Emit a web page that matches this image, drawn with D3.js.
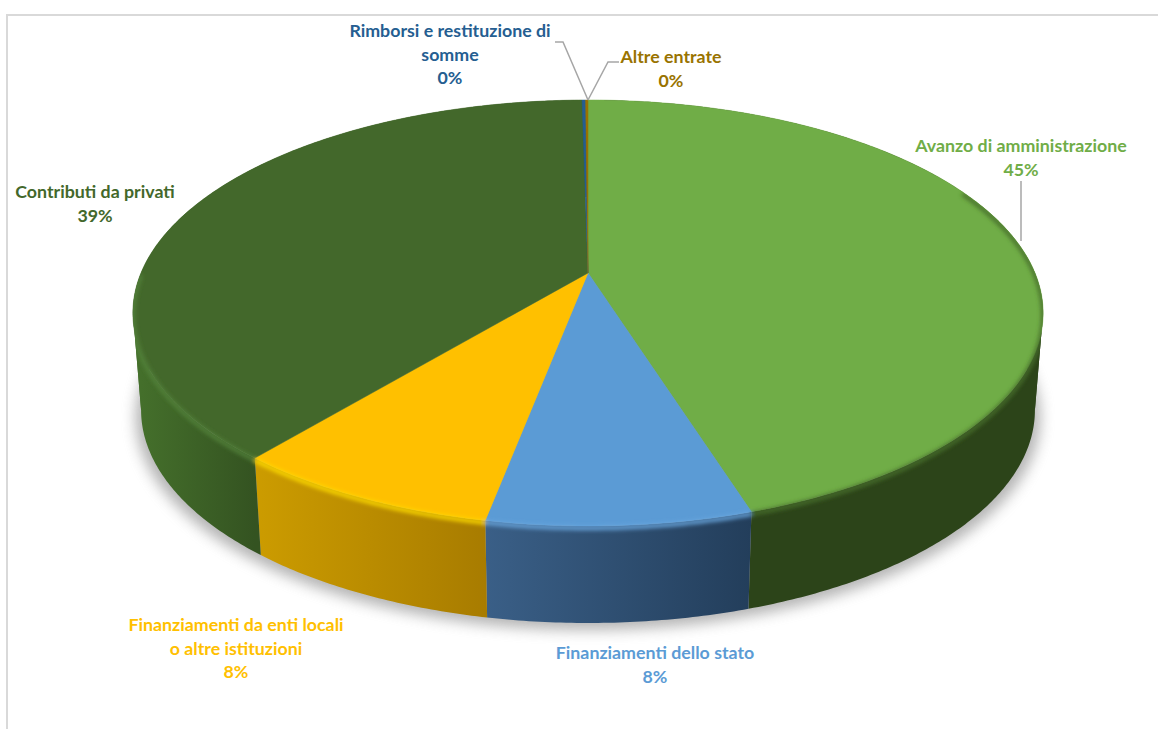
<!DOCTYPE html>
<html>
<head>
<meta charset="utf-8">
<script src="https://cdn.jsdelivr.net/npm/d3@7/dist/d3.min.js"></script>
<style>
  html, body { margin: 0; padding: 0; background: #fff; overflow: hidden; }
  text { font-family: Lato, "Open Sans", sans-serif; font-weight: 700; font-size: 17.8px; text-anchor: middle; }
</style>
</head>
<body>
<div class="container"></div>
<script>
// chart data, clockwise from the top
const categories = ["Avanzo di amministrazione", "Finanziamenti dello stato", "Finanziamenti da enti locali o altre istituzioni", "Contributi da privati", "Rimborsi e restituzione di somme", "Altre entrate"];
const shares = [45.15, 7.85, 8.0, 38.75, 0.15, 0.1];
const colors = ["#70ad47", "#5b9bd5", "#ffc000", "#43682b", "#255e91", "#997300"];
const labelLines = [["Avanzo di amministrazione"], ["Finanziamenti dello stato"], ["Finanziamenti da enti locali", "o altre istituzioni"], ["Contributi da privati"], ["Rimborsi e restituzione di", "somme"], ["Altre entrate"]];

const width = 1158;
const height = 729;
const depth = 97;        // thickness of the disc in px
const tilt = 0.188;      // perspective: the front of the disc is closer
const baseScale = 0.982; // the underside looks a bit narrower

// label placement: centre x and baseline y of first line
const labelPos = [[1021, 152], [655, 659], [236, 631], [95, 198], [450, 37], [671, 63]];
const lineHeight = 23.5;

const svg = d3.select(".container")
  .append("svg")
  .attr("width", width)
  .attr("height", height)
  .style("display", "block");

const defs = svg.append("defs");
defs.append("filter").attr("id", "shadowBlur")
  .attr("x", "-10%").attr("y", "-10%").attr("width", "120%").attr("height", "120%")
  .append("feGaussianBlur").attr("stdDeviation", 7);
defs.append("filter").attr("id", "rimBlur")
  .attr("filterUnits", "userSpaceOnUse")
  .attr("x", 0).attr("y", 0).attr("width", width).attr("height", height)
  .append("feGaussianBlur").attr("stdDeviation", 2);

// disc coordinates (unit circle) to pixels
const xScale = d3.scaleLinear().domain([-1, 1]).range([588 - 447, 588 + 447]);
const yScale = d3.scaleLinear().domain([1 / (1 + tilt), -1 / (1 - tilt)]).range([100, 526]);

function topPoint(a) {
  const w = 1 + tilt * Math.cos(a);
  return [xScale(Math.sin(a) / w), yScale(Math.cos(a) / w)];
}
function basePoint(a) {
  const p = topPoint(a);
  return [588 + (p[0] - 588) * baseScale, p[1] + depth];
}
function arcAngles(a0, a1) {
  const n = Math.max(2, Math.ceil((a1 - a0) / 0.01));
  return d3.range(n + 1).map(i => a0 + (a1 - a0) * i / n);
}

const line = d3.line();
const centre = [xScale(0), yScale(0)];
const slices = d3.pie().sort(null).value(d => d).startAngle(0).endAngle(2 * Math.PI)(shares);
const total = d3.sum(shares);

// frame round the chart area
svg.append("path")
  .attr("d", `M${width},15H7V${height}`)
  .attr("fill", "none")
  .attr("stroke", "#d9d9d9")
  .attr("stroke-width", 2);

// soft shadow under the disc
svg.append("path")
  .attr("d", line(arcAngles(0, 2 * Math.PI).map(a => {
    const p = basePoint(a);
    return [588 + (p[0] - 588) * 1.012, p[1] + 7];
  })) + "Z")
  .attr("fill", "#8c8c8c")
  .attr("opacity", 0.65)
  .attr("filter", "url(#shadowBlur)");

// outer wall, one gradient per slice (left colour, right colour)
const wallStops = [
  ["#2c4419", "#2c4419"],
  ["#3a5f87", "#233e5b"],
  ["#cc9c00", "#a87c00"],
  ["#446f2b", "#345321"],
  ["#1a4066", "#1a4066"],
  ["#6b5100", "#6b5100"]
];
slices.forEach((s, i) => {
  const xs = [topPoint(s.startAngle)[0], topPoint(s.endAngle)[0]];
  // the contributi wall runs from the left edge to its front end
  const g = defs.append("linearGradient").attr("id", "wall" + i)
    .attr("gradientUnits", "userSpaceOnUse")
    .attr("x1", i === 3 ? xScale(-1) : d3.min(xs)).attr("y1", 0)
    .attr("x2", d3.max(i === 3 ? [xs[0]] : xs)).attr("y2", 0);
  g.append("stop").attr("offset", 0).attr("stop-color", wallStops[i][0]);
  g.append("stop").attr("offset", 1).attr("stop-color", wallStops[i][1]);
});

// the wall folds over where the ring turns back, so cut each slice there
const foldAngles = [Math.acos(-tilt), 2 * Math.PI - Math.acos(-tilt)];
const wallPieces = [];
slices.forEach((s, i) => {
  const cuts = [s.startAngle].concat(foldAngles.filter(a => a > s.startAngle && a < s.endAngle), s.endAngle);
  d3.pairs(cuts).forEach(p => wallPieces.push({ index: i, a0: p[0], a1: p[1] }));
});
const wallPath = d => {
  const as = arcAngles(d.a0, d.a1);
  return line(as.map(topPoint).concat(as.slice().reverse().map(basePoint))) + "Z";
};
const topPath = d => line([centre].concat(arcAngles(d.startAngle, d.endAngle).map(topPoint))) + "Z";

svg.append("g").selectAll("path")
  .data(wallPieces)
  .join("path")
  .attr("d", wallPath)
  .attr("fill", d => `url(#wall${d.index})`);

// top face
svg.append("g").selectAll("path")
  .data(slices)
  .join("path")
  .attr("d", topPath)
  .attr("fill", (d, i) => colors[i])
  .attr("stroke", (d, i) => colors[i])
  .attr("stroke-width", 0.5);

// keep the bevel glow on the disc itself
const rimClip = defs.append("clipPath").attr("id", "discClip");
rimClip.selectAll("path.w").data(wallPieces).join("path").attr("class", "w").attr("d", wallPath);
rimClip.selectAll("path.t").data(slices).join("path").attr("class", "t").attr("d", topPath);

// bevel on the rim: the green one starts higher up the right side
const rimColors = ["#466e2c", "#6aa8e0", "#ffdc00", "#52823a", "none", "none"];
const rimStart = [0.36, 0.5, 0.5, 0.5, 0.5, 0.5];
svg.append("g").attr("clip-path", "url(#discClip)")
  .append("g").attr("filter", "url(#rimBlur)").selectAll("path")
  .data(slices)
  .join("path")
  .attr("d", (d, i) => {
    const a0 = Math.max(d.startAngle, Math.PI * rimStart[i]);
    const a1 = Math.min(d.endAngle, Math.PI * 1.5);
    if (a1 <= a0) return null;
    return line(arcAngles(a0, a1).map(a => {
      const p = topPoint(a);
      return [p[0], p[1] + 2];
    }));
  })
  .attr("fill", "none")
  .attr("stroke", (d, i) => rimColors[i])
  .attr("stroke-width", 4);

// leader lines
const leaders = [
  [[1021, 181], [1021, 241]],
  [[555, 42], [563, 42], topPoint(0)],
  [[619, 62], [608, 62], topPoint(0)]
];
svg.append("g").selectAll("path")
  .data(leaders)
  .join("path")
  .attr("d", d => line(d))
  .attr("fill", "none")
  .attr("stroke", "#a6a6a6")
  .attr("stroke-width", 1.5);

// labels: name lines then the rounded percentage
svg.append("g").selectAll("text")
  .data(categories)
  .join("text")
  .attr("fill", (d, i) => colors[i])
  .attr("x", (d, i) => labelPos[i][0])
  .attr("y", (d, i) => labelPos[i][1])
  .each(function(d, i) {
    const rows = labelLines[i].concat(d3.format(".0%")(shares[i] / total));
    d3.select(this).selectAll("tspan")
      .data(rows)
      .join("tspan")
      .attr("x", labelPos[i][0])
      .attr("dy", (r, j) => j === 0 ? 0 : lineHeight)
      .text(r => r);
  });
</script>
</body>
</html>
